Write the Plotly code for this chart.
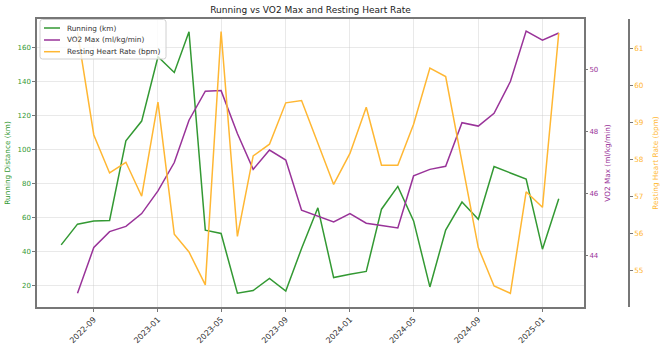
import plotly.graph_objects as go
import pandas as pd

# Data (monthly)
running_months = pd.date_range("2022-07-01", "2025-02-01", freq="MS")
running_km = [44.1, 56.3, 58.2, 58.5, 105.3, 116.9, 154.7, 145.5, 169.4, 52.8,
              50.8, 15.7, 17.3, 24.4, 17.0, 42.0, 65.9, 24.9, 26.9, 28.5,
              65.1, 78.5, 58.2, 19.4, 52.8, 69.3, 59.2, 90.2, 86.4, 82.8,
              41.6, 71.2]

other_months = pd.date_range("2022-08-01", "2025-02-01", freq="MS")
vo2_max = [42.8, 44.27, 44.78, 44.95, 45.36, 46.09, 47.0, 48.36, 49.29, 49.31,
           47.93, 46.78, 47.40, 47.08, 45.47, 45.28, 45.09, 45.36, 45.05, 44.98,
           44.9, 46.57, 46.78, 46.88, 48.28, 48.17, 48.58, 49.6, 51.22, 50.93,
           51.16]
resting_hr = [61.45, 58.67, 57.64, 57.93, 57.01, 59.56, 55.98, 55.5, 54.61, 61.47,
              55.92, 58.1, 58.42, 59.54, 59.6, 58.47, 57.33, 58.17, 59.42, 57.85,
              57.85, 58.96, 60.48, 60.25, 57.94, 55.62, 54.58, 54.38, 57.13, 56.71,
              61.43]

series_names = ["Running (km)", "VO2 Max (ml/kg/min)", "Resting Heart Rate (bpm)"]

x_ticks = ["2022-09-01", "2023-01-01", "2023-05-01", "2023-09-01",
           "2024-01-01", "2024-05-01", "2024-09-01", "2025-01-01"]

GREEN = "#339933"
PURPLE = "#993399"
ORANGE = "#FFB733"
COLORS = [GREEN, PURPLE, ORANGE]
SPINE = "#777777"
FONT = "DejaVu Sans"

fig = go.Figure()
fig.add_trace(go.Scatter(x=running_months, y=running_km, mode="lines",
                         name=series_names[0], line=dict(color=GREEN, width=1.5),
                         yaxis="y"))
fig.add_trace(go.Scatter(x=other_months, y=vo2_max, mode="lines",
                         name=series_names[1], line=dict(color=PURPLE, width=1.5),
                         yaxis="y2"))
fig.add_trace(go.Scatter(x=other_months, y=resting_hr, mode="lines",
                         name=series_names[2], line=dict(color=ORANGE, width=1.5),
                         yaxis="y3"))

# Geometry (pixels) for the paper area
PL, PR, PT, PB = 37, 629, 19, 307
def px(x):
    return (x - PL) / (PR - PL)
def py(y):
    return (PB - y) / (PB - PT)

dom_end = (584 - PL) / (PR - PL)

# Compact legend box (matplotlib-like)
bx0, bx1, by0, by1, r = 40, 166, 19.5, 59, 2.5
path = (f"M {px(bx0 + r)},{py(by0)} L {px(bx1 - r)},{py(by0)} "
        f"Q {px(bx1)},{py(by0)} {px(bx1)},{py(by0 + r)} "
        f"L {px(bx1)},{py(by1 - r)} Q {px(bx1)},{py(by1)} {px(bx1 - r)},{py(by1)} "
        f"L {px(bx0 + r)},{py(by1)} Q {px(bx0)},{py(by1)} {px(bx0)},{py(by1 - r)} "
        f"L {px(bx0)},{py(by0 + r)} Q {px(bx0)},{py(by0)} {px(bx0 + r)},{py(by0)} Z")
shapes = [dict(type="path", path=path, xref="paper", yref="paper",
               fillcolor="rgba(255,255,255,0.8)", line=dict(color="#d0d0d0", width=1),
               layer="above")]
annotations = []
row_y = [28, 40, 51.7]
for name, col, yy in zip(series_names, COLORS, row_y):
    shapes.append(dict(type="line", xref="paper", yref="paper",
                       x0=px(44), x1=px(60), y0=py(yy), y1=py(yy),
                       line=dict(color=col, width=1.5), layer="above"))
    annotations.append(dict(text=name, xref="paper", yref="paper",
                            x=px(64.5), y=py(yy), xanchor="left", yanchor="middle",
                            showarrow=False, font=dict(size=7.3, color="#333333", family=FONT)))

fig.update_layout(
    width=660, height=348,
    margin=dict(l=PL, r=660 - PR, t=PT, b=348 - PB, autoexpand=False),
    plot_bgcolor="white", paper_bgcolor="white",
    font=dict(family=FONT, size=7, color="#333333"),
    title=dict(text="Running vs VO2 Max and Resting Heart Rate",
               x=310.5 / 660, xanchor="center", y=1 - 10 / 348, yanchor="middle",
               font=dict(size=9, color="#222222")),
    showlegend=False,
    shapes=shapes,
    annotations=annotations,
    xaxis=dict(domain=[0, dom_end], type="date", automargin=False,
               range=["2022-05-16", "2025-03-21"],
               tickvals=x_ticks, tickformat="%Y-%m", tickangle=-45,
               showgrid=True, gridcolor="rgba(200,200,200,0.4)", gridwidth=1,
               showline=True, linecolor=SPINE, linewidth=1.5, mirror=True,
               ticks="outside", ticklen=3, tickcolor=SPINE,
               tickfont=dict(size=8, color="#333333"), zeroline=False),
    yaxis=dict(range=[7.6, 176.9], tickvals=[20, 40, 60, 80, 100, 120, 140, 160],
               automargin=False,
               title=dict(text="Running Distance (km)", font=dict(size=7.3, color=GREEN), standoff=6),
               tickfont=dict(size=7, color=GREEN),
               showgrid=True, gridcolor="rgba(200,200,200,0.4)", gridwidth=1,
               showline=True, linecolor=SPINE, linewidth=1.5, mirror=True,
               ticks="outside", ticklen=3, tickcolor=SPINE, zeroline=False),
    yaxis2=dict(range=[42.36, 51.61], tickvals=[44, 46, 48, 50],
                automargin=False,
                overlaying="y", side="right", anchor="x",
                title=dict(text="VO2 Max (ml/kg/min)", font=dict(size=7.3, color=PURPLE), standoff=7),
                tickfont=dict(size=7, color=PURPLE),
                showgrid=False, showline=False,
                ticks="outside", ticklen=3, tickcolor=SPINE, zeroline=False),
    yaxis3=dict(range=[54.01, 61.81], tickvals=[55, 56, 57, 58, 59, 60, 61],
                automargin=False,
                overlaying="y", side="right", anchor="free", position=1.0,
                title=dict(text="Resting Heart Rate (bpm)", font=dict(size=7.3, color=ORANGE), standoff=10),
                tickfont=dict(size=7.3, color=ORANGE),
                showgrid=False, showline=True, linecolor=SPINE, linewidth=1.5,
                ticks="outside", ticklen=3, tickcolor=SPINE, zeroline=False),
)

fig.write_html("out.html")
